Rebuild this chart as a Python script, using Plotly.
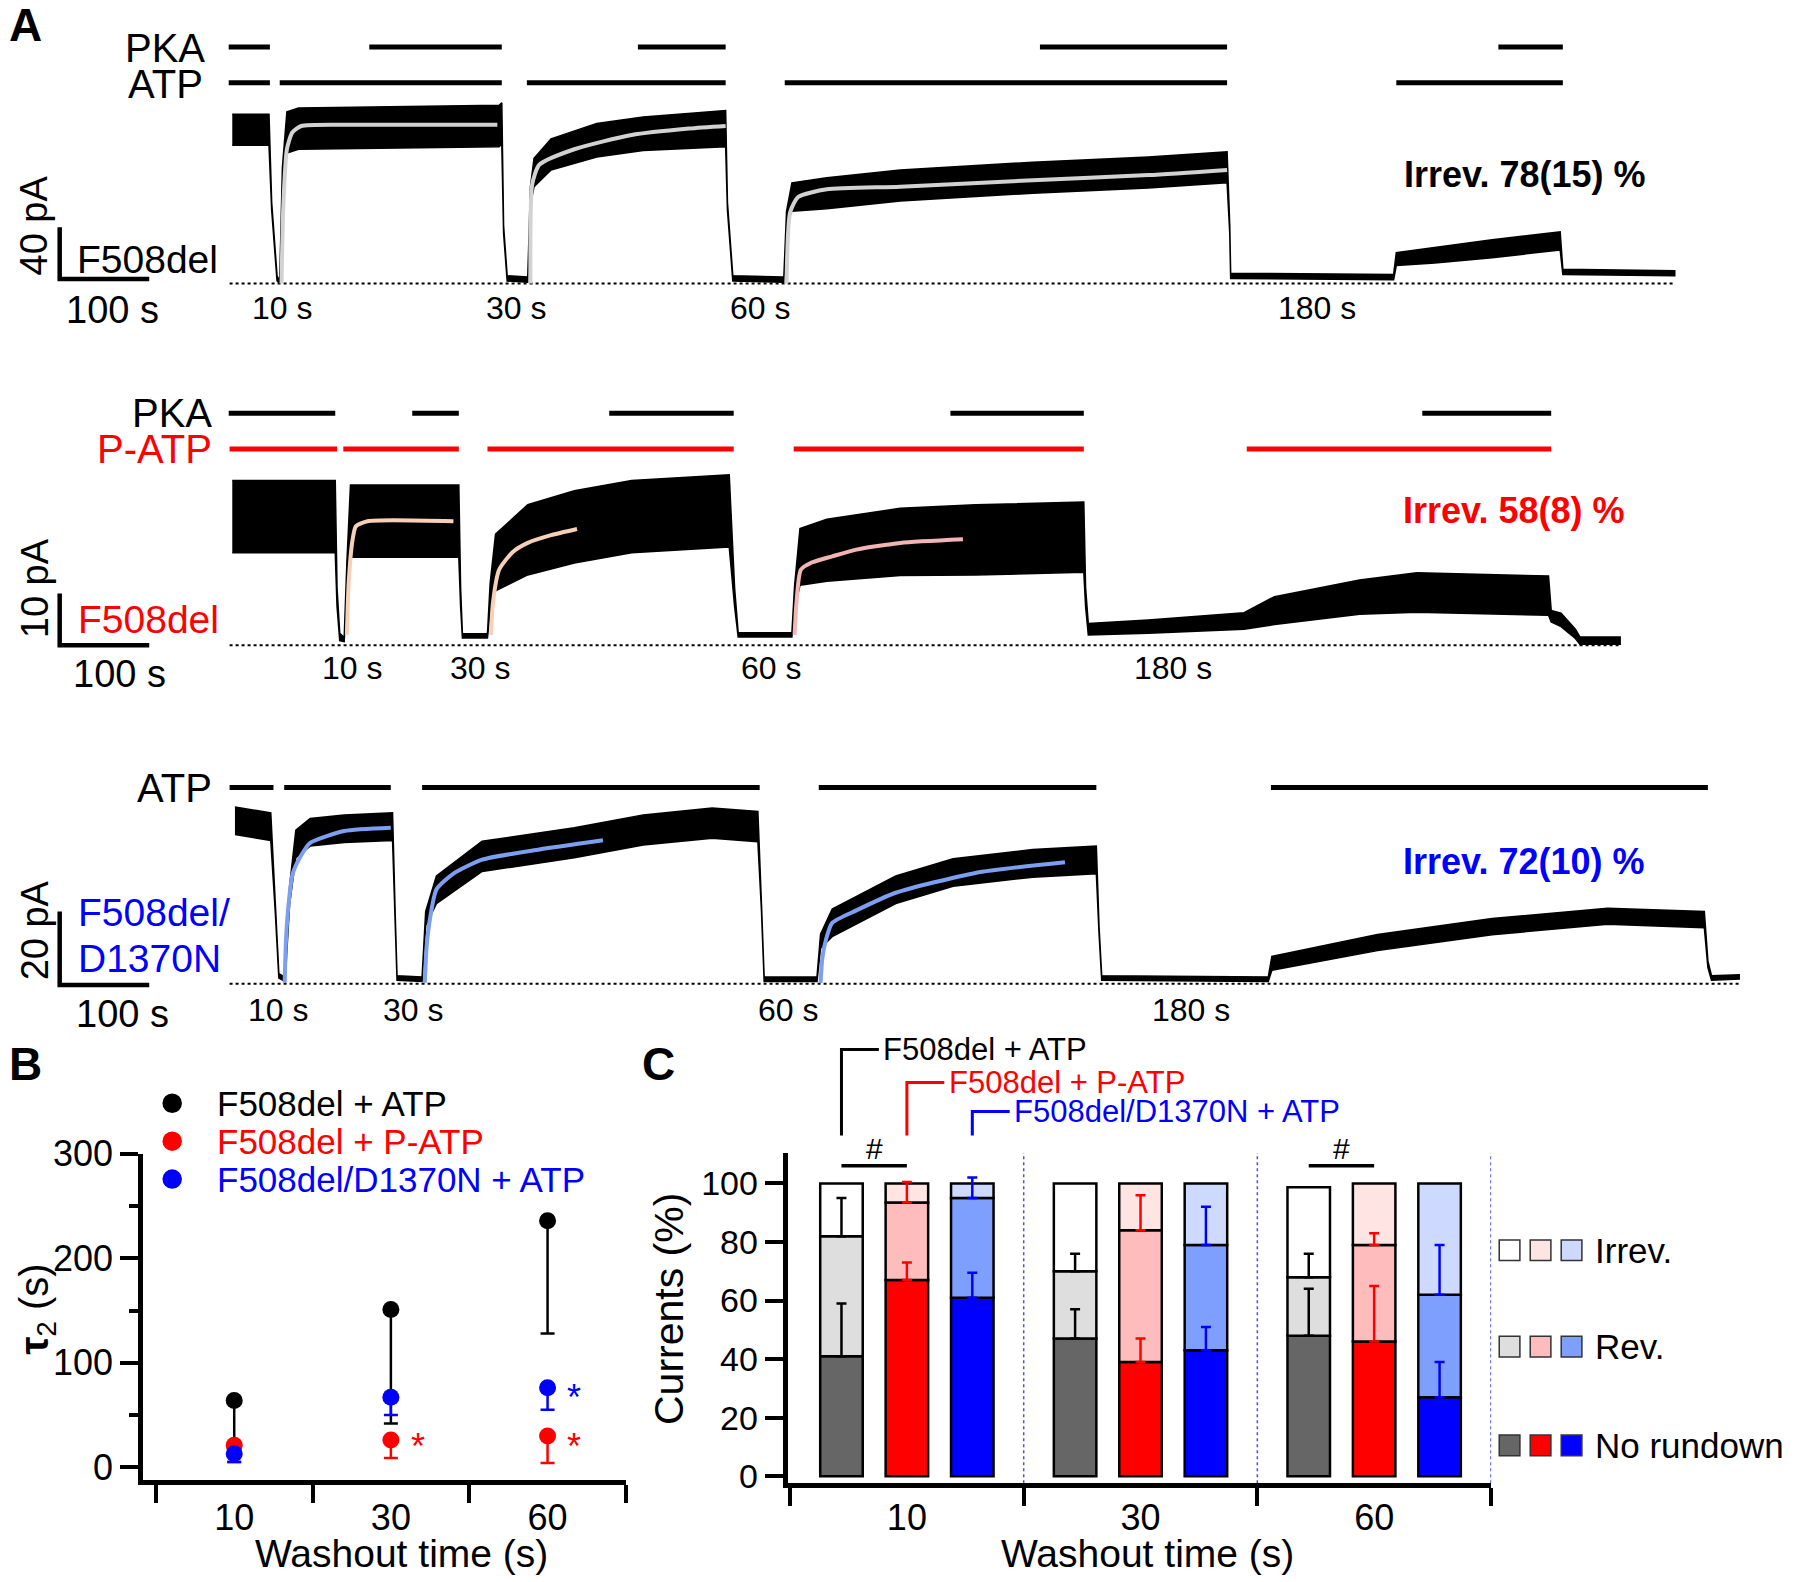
import plotly.graph_objects as go

# ---------------------------------------------------------------
# values
# ---------------------------------------------------------------

# A, top: F508del + ATP (time s, mean current pA, half width of noise pA)
atp_t = [3, 44, 47, 53, 56, 59, 64, 77, 301, 304, 306, 310, 333, 336, 340, 359, 410, 462, 554, 556,
         562, 619, 622, 628, 667, 749, 897, 1026, 1114, 1117, 1118, 1300, 1303, 1346, 1410, 1486, 1489, 1614]
atp_i = [119, 119, 60, 4, 1, 86, 117, 120, 122, 124, 42, 4, 3, 68, 86, 100, 111, 116, 120, 60,
         4, 3, 51, 67, 70, 76, 82, 86, 90, 42, 6, 5, 19, 22, 27, 33, 9, 8]
atp_noise = [12, 12, 3, 2, 1, 4, 16, 16, 16, 16, 3, 2, 2, 7, 11, 12, 13, 13, 14, 3,
             2, 2, 5, 11, 12, 12, 12, 12, 12, 3, 2, 2, 5, 6, 7, 7, 2, 2]
atp_fits = [
    ([58, 60, 64, 70, 80, 128, 299], [0, 60, 104, 117, 122, 123, 123]),
    ([336, 338, 346, 385, 449, 513, 554], [0, 77, 92, 104, 115, 120, 122]),
    ([622, 626, 635, 667, 749, 897, 1026, 1114], [0, 55, 67, 73, 75, 80, 84, 88]),
]
atp_pka_on = [(-1, 45), (156, 304), (456, 554), (905, 1114), (1417, 1489)]
atp_atp_on = [(-1, 45), (56, 304), (332, 554), (620, 1114), (1303, 1489)]
atp_end = 1614
atp_washout = ["10 s", "30 s", "60 s", "180 s"]
atp_washout_t = [58, 320, 592, 1214]

# A, middle: F508del + P-ATP
patp_t = [3, 118, 120, 123, 128, 131, 135, 256, 258, 260, 288, 291, 297, 333, 385, 449, 558, 564, 568, 628,
          631, 637, 667, 749, 833, 954, 956, 959, 1026, 1133, 1167, 1262, 1326, 1473, 1476, 1487, 1503, 1508, 1553]
patp_i = [24.9, 24.9, 9.3, 1.6, 1.1, 13.8, 24, 24, 9.3, 1.8, 1.8, 9.3, 16, 20.4, 22.9, 24.9, 26, 9.3, 2, 2,
          9.3, 17.1, 18.4, 20, 20.4, 20.9, 9.3, 3.1, 3.6, 4.7, 6.7, 9.3, 10.2, 9.6, 5.6, 4.9, 2.2, 0.9, 0.9]
patp_noise = [7, 7, 1.8, 0.7, 0.4, 2.2, 7, 7, 1.8, 0.4, 0.4, 2.7, 5.5, 6.8, 7, 7, 7, 1.8, 0.4, 0.4,
              2.2, 5.5, 6, 6.5, 6.8, 6.8, 1.8, 1.1, 1.3, 1.6, 2.7, 3.3, 3.8, 3.8, 1.1, 1.3, 0.9, 0.7, 0.7]
patp_fits = [
    ([131, 133, 137, 141, 154, 250], [2, 12, 20, 23, 24, 24]),
    ([292, 294, 301, 316, 333, 359, 388], [2, 8, 14.6, 18, 19.8, 21.3, 22.5]),
    ([631, 633, 638, 650, 673, 700, 749, 819], [2, 8, 14.6, 16, 17.2, 18.5, 19.8, 20.5]),
]
patp_pka_on = [(-1, 118), (204, 256), (424, 563), (805, 954), (1332, 1476)]
patp_patp_on = [(0, 120), (127, 256), (288, 563), (630, 954), (1136, 1476)]
patp_end = 1553
patp_washout = ["10 s", "30 s", "60 s", "180 s"]
patp_washout_t = [137, 280, 605, 1054]

# A, bottom: F508del/D1370N + ATP
dn_t = [6, 46, 51, 55, 62, 67, 74, 90, 128, 182, 185, 187, 215, 219, 231, 282, 385, 462, 539, 590,
        594, 597, 656, 660, 673, 744, 808, 897, 968, 971, 974, 1160, 1164, 1282, 1410, 1539, 1647, 1651, 1655, 1686]
dn_i = [44.4, 42.8, 20.9, 2.2, 1.25, 24.1, 38.1, 41.25, 42.2, 42.8, 17.8, 1.6, 1.25, 17.8, 25.6, 34.7, 38.4, 41.9, 43.75, 42.8,
        20.9, 1.25, 1.25, 11.6, 16.6, 25.6, 30.3, 32.8, 33.75, 14.7, 1.6, 1.25, 5.6, 11.25, 15.6, 18.4, 17.5, 5.3, 1.6, 1.9]
dn_noise = [3.75, 3.75, 1.25, 0.6, 0.6, 2.5, 3.75, 3.75, 3.75, 3.75, 0.9, 0.6, 0.6, 1.9, 3.75, 4.1, 4.1, 4.1, 4.1, 4.1,
            0.9, 0.6, 0.6, 1.9, 3.75, 3.75, 3.75, 3.75, 3.75, 0.9, 0.6, 0.6, 1.9, 2.2, 2.2, 2.2, 2.2, 0.9, 0.6, 0.6]
dn_fits = [
    ([61.5, 63, 66, 70.5, 80, 90, 128, 180], [0.3, 12, 22, 30, 35, 38.4, 41.6, 42.5]),
    ([218, 220, 224, 231, 250, 282, 346, 417], [0.3, 10, 18, 25.7, 30, 33.8, 36.6, 39.1]),
    ([660, 662, 666, 673, 700, 744, 833, 933], [0.3, 7, 12, 16.6, 20, 24.8, 30.2, 33.1]),
]
dn_atp_on = [(0, 49), (61, 180), (215, 592), (658, 968), (1163, 1651)]
dn_end = 1686
dn_washout = ["10 s", "30 s", "60 s", "180 s"]
dn_washout_t = [54, 205, 624, 1074]

irrev_text = ["Irrev. 78(15) %", "Irrev. 58(8) %", "Irrev. 72(10) %"]
scale_pa = [40, 10, 20]
scale_s = 100

# B: tau2 (s) with downward SEM
washout_times = ["10", "30", "60"]
group_names = ["F508del + ATP", "F508del + P-ATP", "F508del/D1370N + ATP"]
tau2_mean = [[64, 151, 236], [21, 26, 30], [13, 67, 76]]
tau2_sem = [[50, 109, 108], [16, 17, 26], [8, 17, 21]]

# C: currents (%) split into No rundown / Rev. / Irrev.
no_rundown = [[41, 47, 48], [67, 39, 46], [61, 43, 27]]
no_rundown_sem = [[18, 10, 16], [6, 8, 19], [8.5, 8, 12]]
rev = [[41, 23, 20], [26.5, 45, 33], [34, 36, 35]]
rev_sem = [[13, 6, 8], [7, 12, 4], [7, 13, 17]]
irrev = [[18, 30, 30.7], [6.5, 16, 21], [5, 21, 38]]
component_names = ["Irrev.", "Rev.", "No rundown"]

# ---------------------------------------------------------------
# styling
# ---------------------------------------------------------------
FONT = "Liberation Sans, Arial, sans-serif"
W0, H0 = 1568.0, 1378.0          # canvas used when measuring the reference
FIG_W, FIG_H = 1800, 1582
main_colors = ["black", "#ff0000", "#0000ff"]
nr_colors = ["#666666", "#ff0000", "#0000ff"]
rev_colors = ["#dedede", "#ffbcbc", "#7f9fff"]
irrev_colors = ["#ffffff", "#ffe4e4", "#cdd9ff"]
fit_colors = [["#d2d2d2"] * 3, ["#f8d0b8", "#f8d0b8", "#f3b4b4"], ["#7c9ff2"] * 3]


def fx(x):
    return x / W0


def fy(y):
    return 1 - y / H0


fig = go.Figure()
annotations = []
shapes = []


def note(text, x, y, size, color="black", xanchor="center", angle=0, xref="paper", yref="paper"):
    annotations.append(dict(text=text, x=x, y=y, xref=xref, yref=yref, showarrow=False,
                            xanchor=xanchor, yanchor="middle", textangle=angle,
                            font=dict(family=FONT, size=size, color=color)))


# ---------------------------------------------------------------
# panel A: three recordings, each on its own invisible axis pair
# ---------------------------------------------------------------
SEC_PER_PX = 100 / 78.0
rec_frames = [(200, 247, 40 / 45.0), (200, 562, 10 / 45.0), (200, 857, 20 / 64.0)]
layout_axes = {}
for k, (x0, y0, pa) in enumerate(rec_frames, start=1):
    s = "" if k == 1 else str(k)
    layout_axes["xaxis" + s] = dict(domain=[0, 1], range=[-x0 * SEC_PER_PX, (W0 - x0) * SEC_PER_PX],
                                    visible=False, anchor="y" + s, fixedrange=True, automargin=False)
    layout_axes["yaxis" + s] = dict(domain=[0, 1], range=[(y0 - H0) * pa, y0 * pa],
                                    visible=False, anchor="x" + s, fixedrange=True, automargin=False)


def row_level(k, y):
    x0, y0, pa = rec_frames[k - 1]
    return (y0 - y) * pa


def col_time(k, x):
    x0, y0, pa = rec_frames[k - 1]
    return (x - x0) * SEC_PER_PX


recordings = [
    dict(t=atp_t, i=atp_i, n=atp_noise, fits=atp_fits, end=atp_end,
         stim=[(atp_pka_on, "black", 41), (atp_atp_on, "black", 72)],
         wl=atp_washout, wt=atp_washout_t, wy=268),
    dict(t=patp_t, i=patp_i, n=patp_noise, fits=patp_fits, end=patp_end,
         stim=[(patp_pka_on, "black", 360), (patp_patp_on, "#ff0000", 391)],
         wl=patp_washout, wt=patp_washout_t, wy=582),
    dict(t=dn_t, i=dn_i, n=dn_noise, fits=dn_fits, end=dn_end,
         stim=[(dn_atp_on, "black", 686)],
         wl=dn_washout, wt=dn_washout_t, wy=880),
]
scale_corner_y = [243, 562, 858]

for k, rec in enumerate(recordings, start=1):
    s = "" if k == 1 else str(k)
    xa, ya = "x" + s, "y" + s
    # zero current line
    fig.add_trace(go.Scatter(x=[0, rec["end"]], y=[0, 0], mode="lines", xaxis=xa, yaxis=ya,
                             line=dict(color="black", width=2, dash="dot"), hoverinfo="skip"))
    # current trace drawn as its noise band
    upper = [m + h for m, h in zip(rec["i"], rec["n"])]
    lower = [m - h for m, h in zip(rec["i"], rec["n"])]
    fig.add_trace(go.Scatter(x=rec["t"] + rec["t"][::-1], y=upper + lower[::-1], mode="lines",
                             fill="toself", fillcolor="black", xaxis=xa, yaxis=ya,
                             line=dict(color="black", width=1.5), hoverinfo="skip"))
    # exponential fits
    for (ft, fi), col in zip(rec["fits"], fit_colors[k - 1]):
        fig.add_trace(go.Scatter(x=ft, y=fi, mode="lines", xaxis=xa, yaxis=ya,
                                 line=dict(color=col, width=4, shape="spline", smoothing=0.6),
                                 hoverinfo="skip"))
    # application bars
    for intervals, col, row in rec["stim"]:
        xs, ys = [], []
        lev = row_level(k, row)
        for a, b in intervals:
            xs += [a, b, None]
            ys += [lev, lev, None]
        fig.add_trace(go.Scatter(x=xs, y=ys, mode="lines", xaxis=xa, yaxis=ya,
                                 line=dict(color=col, width=5), hoverinfo="skip"))
    # scale bar
    tc = col_time(k, 52)
    ic = row_level(k, scale_corner_y[k - 1])
    fig.add_trace(go.Scatter(x=[tc, tc, tc + scale_s], y=[ic + scale_pa[k - 1], ic, ic], mode="lines",
                             xaxis=xa, yaxis=ya, line=dict(color="black", width=4.5), hoverinfo="skip"))
    # washout duration labels
    for lab, t in zip(rec["wl"], rec["wt"]):
        note(lab, t, fy(rec["wy"]), 32, xref=xa)

# panel A text
note("<b>A</b>", fx(22), fy(22), 46)
note("PKA", fx(180), fy(42), 40, xanchor="right")
note("ATP", fx(179), fy(73), 40, xanchor="right")
note("40 pA", fx(30), fy(196), 38, angle=-90)
note("F508del", fx(65), fy(226), 39, xanchor="left")
note("100 s", fx(98), fy(270), 38)
note("<b>" + irrev_text[0] + "</b>", fx(1328), fy(152), 36)

note("PKA", fx(186), fy(360), 40, xanchor="right")
note("P-ATP", fx(186), fy(391), 40, color="#ff0000", xanchor="right")
note("10 pA", fx(30), fy(512), 38, angle=-90)
note("F508del", fx(66), fy(540), 39, color="#ff0000", xanchor="left")
note("100 s", fx(104), fy(587), 38)
note("<b>" + irrev_text[1] + "</b>", fx(1318), fy(445), 36, color="#ff0000")

note("ATP", fx(186), fy(686), 40, xanchor="right")
note("20 pA", fx(30), fy(810), 38, angle=-90)
note("F508del/", fx(66), fy(795), 39, color="#0000ff", xanchor="left")
note("D1370N", fx(66), fy(835), 39, color="#0000ff", xanchor="left")
note("100 s", fx(107), fy(883), 38)
note("<b>" + irrev_text[2] + "</b>", fx(1327), fy(750), 36, color="#0000ff")

# ---------------------------------------------------------------
# panel B: tau2 vs washout time
# ---------------------------------------------------------------
for g in range(3):
    fig.add_trace(go.Scatter(
        x=[0, 1, 2], y=tau2_mean[g], mode="markers", xaxis="x4", yaxis="y4",
        marker=dict(color=main_colors[g], size=17),
        error_y=dict(type="data", symmetric=False, array=[0, 0, 0], arrayminus=tau2_sem[g],
                     color=main_colors[g], thickness=2.5, width=7),
        hoverinfo="skip"))
note("*", 1.17, 20, 36, color="#ff0000", xref="x4", yref="y4")
note("*", 2.17, 20, 36, color="#ff0000", xref="x4", yref="y4")
note("*", 2.17, 67, 36, color="#0000ff", xref="x4", yref="y4")

note("<b>B</b>", fx(22), fy(927), 46)
for g in range(3):
    ly = 961 + 33 * g
    shapes.append(dict(type="circle", xref="paper", yref="paper",
                       x0=fx(150 - 8.5), x1=fx(150 + 8.5), y0=fy(ly + 8.5), y1=fy(ly - 8.5),
                       fillcolor=main_colors[g], line=dict(color=main_colors[g], width=0)))
    note(group_names[g], fx(187), fy(ly), 35, color=main_colors[g], xanchor="left")
note("<b>τ</b><sub>2</sub> (s)", fx(32), fy(1140), 40, angle=-90)
note("Washout time (s)", fx(350), fy(1353), 39)

# ---------------------------------------------------------------
# panel C: stacked current fractions
# ---------------------------------------------------------------
offsets = [-0.28, 0.0, 0.28]
bar_w = 0.182
C_XR = [-0.511, 2.501]
C_YR = [-2.4, 110.4]
C_XD = [fx(686), fx(1299)]
C_YD = [fy(1292), fy(1004.3)]


def cx(v):
    return C_XD[0] + (v - C_XR[0]) / (C_XR[1] - C_XR[0]) * (C_XD[1] - C_XD[0])


def cy(v):
    return C_YD[0] + (v - C_YR[0]) / (C_YR[1] - C_YR[0]) * (C_YD[1] - C_YD[0])


for g in range(3):
    xs = [i + offsets[g] for i in range(3)]
    base_rev = no_rundown[g]
    base_irr = [a + b for a, b in zip(no_rundown[g], rev[g])]
    for vals, base, cols in [(no_rundown[g], [0, 0, 0], nr_colors),
                             (rev[g], base_rev, rev_colors),
                             (irrev[g], base_irr, irrev_colors)]:
        fig.add_trace(go.Bar(x=xs, y=vals, base=base, width=bar_w, xaxis="x5", yaxis="y5",
                             marker=dict(color=cols[g], line=dict(color="black", width=2.5)),
                             hoverinfo="skip"))

# error bars on top of the stacked segments
for g in range(3):
    xs = [i + offsets[g] for i in range(3)]
    tops = no_rundown[g] + [a + b for a, b in zip(no_rundown[g], rev[g])]
    errs = no_rundown_sem[g] + rev_sem[g]
    fig.add_trace(go.Scatter(x=xs + xs, y=tops, mode="markers", xaxis="x5", yaxis="y5",
                             marker=dict(size=1, color="rgba(0,0,0,0)"),
                             error_y=dict(type="data", symmetric=False, array=errs,
                                          arrayminus=[0] * 6, color=main_colors[g],
                                          thickness=2.5, width=5),
                             hoverinfo="skip"))

# group separators
xs, ys = [], []
for b in [0.5, 1.5, 2.5]:
    xs += [b, b, None]
    ys += [C_YR[0], C_YR[1], None]
fig.add_trace(go.Scatter(x=xs, y=ys, mode="lines", xaxis="x5", yaxis="y5",
                         line=dict(color="#4a4aff", width=1.5, dash="dot"), hoverinfo="skip"))
# significance bars (#)
xs, ys = [], []
for i in [0, 2]:
    xs += [i + offsets[0], i + offsets[1], None]
    ys += [106, 106, None]
    note("#", cx(i - 0.14), cy(112), 30)
fig.add_trace(go.Scatter(x=xs, y=ys, mode="lines", xaxis="x5", yaxis="y5",
                         line=dict(color="black", width=3.5), hoverinfo="skip"))

# group labels with brackets
label_levels = [145.7, 134.5, 124.6]
for g in range(3):
    x0 = offsets[g]
    x1 = x0 + 0.16
    shapes.append(dict(type="path", xref="paper", yref="paper",
                       path="M %f %f L %f %f L %f %f" % (cx(x0), cy(116.4), cx(x0), cy(label_levels[g]),
                                                         cx(x1), cy(label_levels[g])),
                       line=dict(color=main_colors[g], width=3)))
    note(group_names[g], cx(x1 + 0.01), cy(label_levels[g]), 31, color=main_colors[g], xanchor="left")

note("<b>C</b>", fx(574), fy(927), 46)
note("Currents (%)", fx(583), fy(1140), 41, angle=-90)
note("Washout time (s)", fx(1000), fy(1353), 39)

# legend of panel C
legend_rows = [(irrev_colors, 1089), (rev_colors, 1173), (nr_colors, 1259)]
for (cols, yy), name in zip(legend_rows, component_names):
    for c, xx in zip(cols, [1315, 1342, 1369]):
        shapes.append(dict(type="rect", xref="paper", yref="paper",
                           x0=fx(xx - 9), x1=fx(xx + 9), y0=fy(yy + 9), y1=fy(yy - 9),
                           fillcolor=c, line=dict(color="#333333", width=1.5)))
    note(name, fx(1388), fy(yy), 35, xanchor="left")

# ---------------------------------------------------------------
# layout
# ---------------------------------------------------------------
axis_common = dict(showline=True, linecolor="black", linewidth=4.5, showgrid=False, zeroline=False,
                   fixedrange=True, tickcolor="black", tickwidth=4, automargin=False,
                   tickfont=dict(family=FONT, size=36, color="black"))

fig.update_layout(
    width=FIG_W, height=FIG_H,
    margin=dict(l=0, r=0, t=0, b=0, pad=0, autoexpand=False),
    paper_bgcolor="white", plot_bgcolor="rgba(0,0,0,0)",
    showlegend=False, barmode="overlay", hovermode=False,
    font=dict(family=FONT, color="black"),
    annotations=annotations, shapes=shapes,
    **layout_axes,
    xaxis4=dict(axis_common, domain=[fx(124.6), fx(545.5)], range=[-0.582, 2.502], anchor="y4",
                tickvals=[0, 1, 2], ticktext=washout_times, ticks="", ticklabelstandoff=2,
                minor=dict(tickvals=[-0.5, 0.5, 1.5, 2.5], ticks="outside", ticklen=18,
                           tickwidth=4, tickcolor="black")),
    yaxis4=dict(axis_common, domain=[fy(1289), fy(1005)], range=[-12, 300], anchor="x4",
                tickvals=[0, 100, 200, 300], ticks="outside", ticklen=18,
                minor=dict(tickvals=[50, 150, 250], ticks="outside", ticklen=9,
                           tickwidth=4, tickcolor="black")),
    xaxis5=dict(axis_common, domain=C_XD, range=C_XR, anchor="y5",
                tickvals=[0, 1, 2], ticktext=washout_times, ticks="", ticklabelstandoff=-1,
                minor=dict(tickvals=[-0.5, 0.5, 1.5, 2.5], ticks="outside", ticklen=18,
                           tickwidth=4, tickcolor="black")),
    yaxis5=dict(axis_common, domain=C_YD, range=C_YR, anchor="x5",
                tickvals=[0, 20, 40, 60, 80, 100], ticks="outside", ticklen=18,
                tickfont=dict(family=FONT, size=34, color="black")),
)

fig.write_html("out.html", config={"displayModeBar": False},
               post_script="document.body.style.margin = '0px';")
